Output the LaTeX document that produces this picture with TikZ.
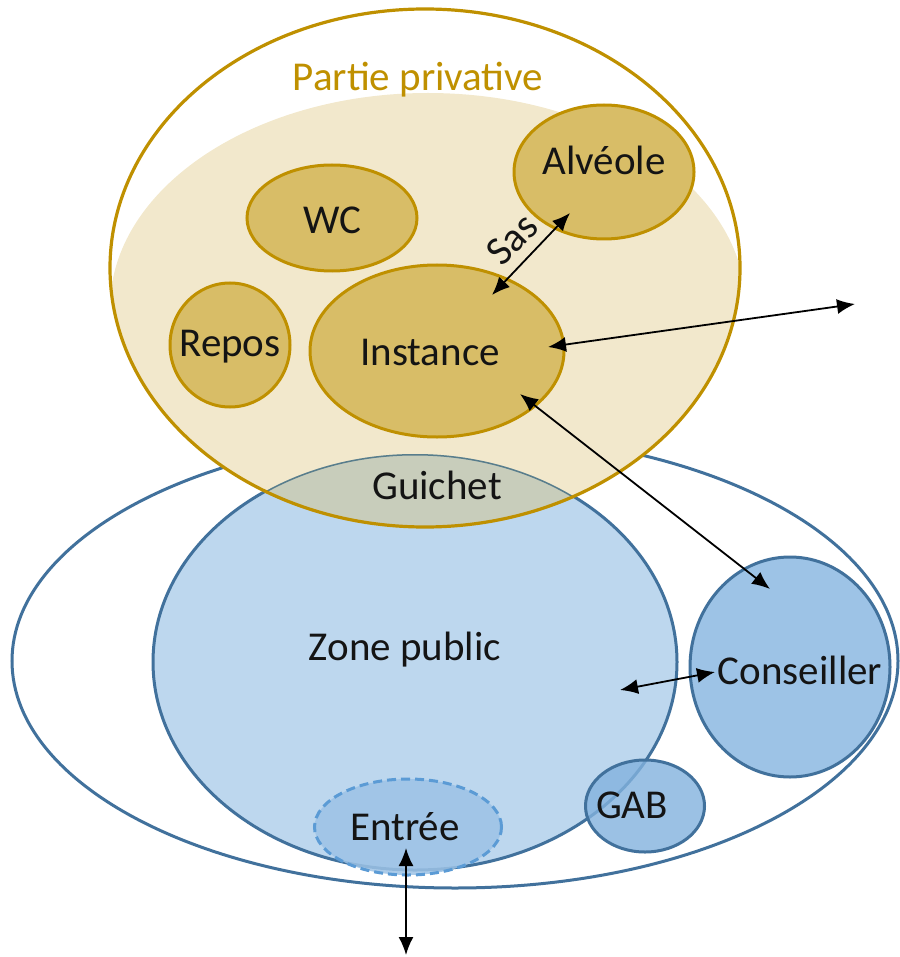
\documentclass[tikz,border=0pt]{standalone}
\usepackage{fontspec}
\setmainfont{Carlito}
\usetikzlibrary{arrows.meta,shapes.geometric}
\definecolor{gold}{RGB}{191,144,0}
\definecolor{beige}{RGB}{242,232,204}
\definecolor{goldfill}{RGB}{216,189,103}
\definecolor{blueline}{RGB}{65,113,156}
\definecolor{guichetline}{RGB}{88,125,140}
\definecolor{zonefill}{RGB}{189,215,238}
\definecolor{consfill}{RGB}{157,195,230}
\definecolor{gabfill}{RGB}{131,178,222}
\definecolor{guichetfill}{RGB}{200,205,187}
\definecolor{dashblue}{RGB}{91,155,213}
\definecolor{txt}{RGB}{20,20,20}
\begin{document}
\begin{tikzpicture}[x=1pt,y=-1pt,
  lbl/.style={font=\fontsize{41}{48}\selectfont, text=txt, inner sep=0pt},
  goldell/.style={ellipse, draw=gold, fill=goldfill, line width=3pt, inner sep=0pt},
  blueell/.style={ellipse, draw=blueline, line width=3pt, inner sep=0pt},
  dbl/.style={{Latex[length=18pt,width=15pt]}-{Latex[length=18pt,width=15pt]}, line width=1.8pt, black},
]
\useasboundingbox (0,0) rectangle (899,957);
% public area
\node[blueell, fill=white, minimum width=886, minimum height=454] (outer) at (455,661) {};
\node[blueell, fill=zonefill, minimum width=524, minimum height=416] (zone) at (415,662) {};
\node[blueell, fill=consfill, minimum width=200, minimum height=220] (cons) at (790,667) {};
% private area fill and counter
\begin{scope}
  \clip (425,268) ellipse [x radius=315, y radius=259];
  \fill[beige] (428,308) ellipse [x radius=318, y radius=215];
  \clip (415,662) ellipse [x radius=262, y radius=208];
  \fill[guichetfill] (0,0) rectangle (899,957);
  \draw[guichetline, line width=3pt] (415,662) ellipse [x radius=262, y radius=208];
\end{scope}
\node[ellipse, draw=gold, line width=3.2pt, inner sep=0pt, minimum width=630, minimum height=518] (priv) at (425,268) {};
% private rooms
\node[goldell, minimum width=180, minimum height=134] (alv) at (604,172) {};
\node[goldell, minimum width=170, minimum height=106] (wc) at (332,218) {};
\node[goldell, minimum width=120, minimum height=124] (repos) at (230,345) {};
\node[goldell, minimum width=254, minimum height=172] (inst) at (437,351) {};
% GAB and entry
\node[blueell, fill=gabfill, fill opacity=0.8, minimum width=119, minimum height=92] (gab) at (645,806) {};
\node[ellipse, draw=dashblue, dash pattern=on 9pt off 5pt, line width=3pt, fill=consfill, fill opacity=0.85, inner sep=0pt, minimum width=187, minimum height=96] (entree) at (408,827) {};
% labels
\node[lbl, text=gold] (tpriv) at (418,80) {Partie privative};
\node[lbl] (talv) at (604,160) {Alvéole};
\node[lbl] (twc) at (332,220) {WC};
\node[lbl] (trepos) at (230,347) {Repos};
\node[lbl] (tinst) at (430,352) {Instance};
\node[lbl] (tgui) at (437,485) {Guichet};
\node[lbl] (tzone) at (405,650) {Zone public};
\node[lbl] (tcons) at (800,670) {Conseiller};
\node[lbl] (tgab) at (632,805) {GAB};
\node[lbl] (tentree) at (405,827) {Entrée};
\node[lbl, rotate=46] (tsas) at (512,239) {Sas};
% connectors
\coordinate (sasA) at (492,295);
\coordinate (sasB) at (570,213);
\coordinate (instR) at (548,347);
\coordinate (outR) at (855,304);
\coordinate (instB) at (520,394);
\coordinate (consT) at (770,589);
\coordinate (zoneR) at (620,690);
\coordinate (consL) at (715,672);
\coordinate (entT) at (406,848);
\coordinate (entB) at (406,955);
\draw[dbl] (sasA) -- (sasB);
\draw[dbl] (instR) -- (outR);
\draw[dbl] (instB) -- (consT);
\draw[dbl] (zoneR) -- (consL);
\draw[dbl] (entT) -- (entB);
\end{tikzpicture}
\end{document}
